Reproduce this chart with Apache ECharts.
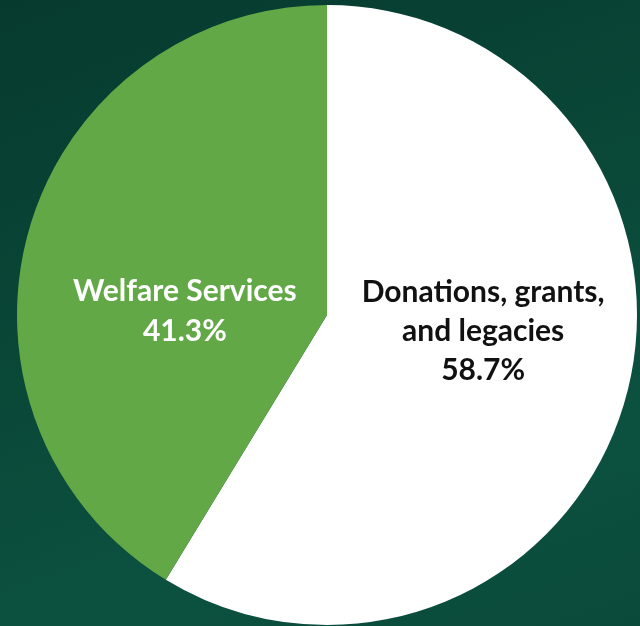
<!DOCTYPE html>
<html>
<head>
<meta charset="utf-8">
<script src="https://cdn.jsdelivr.net/npm/echarts@6/dist/echarts.min.js"></script>
<style>
html,body{margin:0;padding:0;width:640px;height:626px;overflow:hidden;}
body{background:linear-gradient(160deg,#063a2f 0%,#0a4838 45%,#0c5140 75%,#0a4a3a 100%);}
#chart{width:640px;height:626px;}
</style>
</head>
<body>
<div id="chart"></div>
<script>
const categories = ["Donations, grants,\nand legacies", "Welfare Services"];
const values = [58.7, 41.3];
const colors = ["#ffffff", "#62a846"];
const labelColors = ["#111111", "#ffffff"];
const labelOffsets = [[4, -26], [10, 39]];
const lineHeights = [39, 40];

const chart = echarts.init(document.getElementById('chart'), null, {renderer: 'canvas'});
chart.setOption({
  backgroundColor: 'transparent',
  animation: false,
  series: [{
    type: 'pie',
    center: [327, 315],
    radius: [0, 310],
    startAngle: 90,
    clockwise: true,
    silent: true,
    label: {
      show: true,
      position: 'inside',
      formatter: '{b}\n{c}%',
      fontFamily: 'Lato',
      fontWeight: 'bold',
      fontSize: 30,
      align: 'center'
    },
    labelLine: {show: false},
    data: categories.map((n, i) => ({
      name: n,
      value: values[i],
      itemStyle: {color: colors[i], borderWidth: 0},
      label: {color: labelColors[i], offset: labelOffsets[i], lineHeight: lineHeights[i]}
    }))
  }]
});
</script>
</body>
</html>
